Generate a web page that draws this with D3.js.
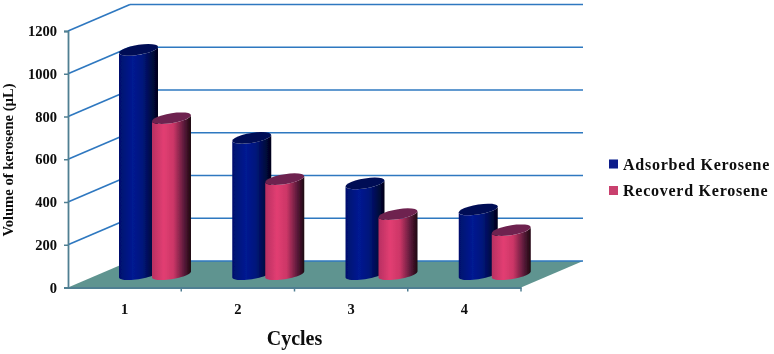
<!DOCTYPE html>
<html>
<head>
<meta charset="utf-8">
<script src="https://cdnjs.cloudflare.com/ajax/libs/d3/7.8.5/d3.min.js"></script>
<style>
body{margin:0;background:#fff;}
svg{display:block;}
text{font-family:'Liberation Serif',serif;font-weight:bold;fill:#0a0a0a;}
</style>
</head>
<body>
<svg width="774" height="354"></svg>
<script>
var cycles = ['1','2','3','4'];
var seriesNames = ['Adsorbed Kerosene','Recoverd Kerosene'];
var adsorbed = [1050,638,425,303];
var recovered = [730,445,281,206];
var yTicks = [0,200,400,600,800,1000,1200];

var svg = d3.select('svg');

// layout
var plot = {l:68, r:521, t:31, b:287.5};
var depth = {x:62, y:26.5};
var rx = 19.5, ry = 5, tilt = 3;

var y = d3.scaleLinear().domain([0,1200]).range([plot.b,plot.t]);
var x = d3.scaleBand().domain(cycles).range([plot.l,plot.r]);
var xInner = d3.scaleBand().domain(seriesNames).range([23,89]);
var colors = d3.scaleOrdinal().domain(seriesNames).range(['#0a1a8a','#c9406e']);

var defs = svg.append('defs');
defs.append('filter').attr('id','soft')
    .attr('x','-5%').attr('y','-5%').attr('width','110%').attr('height','110%')
    .append('feGaussianBlur').attr('stdDeviation',0.6);

function makeGradient(id,stops){
    var g = defs.append('linearGradient').attr('id',id);
    stops.forEach(function(s){
        g.append('stop').attr('offset',s[0]).attr('stop-color',s[1]);
    });
}
makeGradient('blueBody',[[0,'#00106c'],[0.35,'#001a92'],[0.6,'#00157c'],[0.85,'#000a40'],[1,'#000118']]);
makeGradient('redBody',[[0,'#b83062'],[0.3,'#e23e72'],[0.55,'#cc3667'],[0.82,'#5a1a3a'],[1,'#1c0610']]);

var root = svg.append('g').attr('filter','url(#soft)');

// floor
root.append('polygon')
    .attr('points',[[plot.l,y(0)],[plot.r,y(0)],[plot.r+depth.x,y(0)-depth.y],[plot.l+depth.x,y(0)-depth.y]].join(' '))
    .attr('fill','#5f9490');

// gridlines on the wall and the side
var grid = root.append('g').attr('fill','none').attr('stroke','#2f78c0').attr('stroke-width',1.7);
yTicks.forEach(function(t){
    if(t>0){
        grid.append('path')
            .attr('d','M'+plot.l+','+y(t)+'L'+(plot.l+depth.x)+','+(y(t)-depth.y));
    }
    grid.append('path')
        .attr('d','M'+(plot.l+depth.x)+','+(y(t)-depth.y)+'H'+(plot.r+depth.x));
});

// axes
var yAxis = root.append('g')
    .attr('transform','translate('+plot.l+',0)')
    .call(d3.axisLeft(y).tickValues(yTicks).tickSize(4).tickPadding(7).tickFormat(d3.format('d')));
var xAxis = root.append('g')
    .attr('transform','translate(0,'+plot.b+')')
    .call(d3.axisBottom(x).tickSize(0).tickPadding(16));
xAxis.selectAll('.tick').each(function(d){
    d3.select(this).append('line')
        .attr('x1',x.bandwidth()/2).attr('x2',x.bandwidth()/2)
        .attr('y1',0).attr('y2',4);
});
root.selectAll('.domain').attr('stroke','#4f7f92').attr('stroke-width',1.8);
root.selectAll('.tick line').attr('stroke','#4f7f92').attr('stroke-width',1.5);
root.selectAll('.tick text').attr('font-size','14.5px').style('font-family',"'Liberation Serif',serif").style('font-weight','bold').attr('fill','#0a0a0a');

// outline of a tilted ellipse from angle a0 to a1
function rim(cx,cy,a0,a1){
    var pts = d3.range(0,25).map(function(i){
        var a = a0+(a1-a0)*i/24;
        return [cx+rx*Math.cos(a), cy+ry*Math.sin(a)-tilt*Math.cos(a)];
    });
    return pts;
}

function drawCylinder(name,cycle,value){
    var cx = x(cycle)+xInner(name)+xInner.bandwidth()/2+depth.x/2;
    var base = y(0)-depth.y/2;
    var top = base-(y(0)-y(value));
    var isBlue = name===seriesNames[0];
    var line = d3.line();
    // bottom rim runs right to left along the front, top rim closes back over the front edge
    var body = rim(cx,base,0,Math.PI).concat(rim(cx,top,Math.PI,0));
    root.append('path')
        .attr('d',line(body)+'Z')
        .attr('fill',isBlue?'url(#blueBody)':'url(#redBody)');
    root.append('path')
        .attr('d',line(rim(cx,top,0,2*Math.PI))+'Z')
        .attr('fill',isBlue?'#000c55':'#6e2450');
}

cycles.forEach(function(c,i){
    drawCylinder(seriesNames[0],c,adsorbed[i]);
    drawCylinder(seriesNames[1],c,recovered[i]);
});

// titles
root.append('text')
    .attr('text-anchor','middle')
    .attr('transform','translate(294.5,345)')
    .attr('font-size','20px')
    .text('Cycles');
root.append('text')
    .attr('text-anchor','middle')
    .attr('transform','translate(13,160) rotate(-90)')
    .attr('font-size','14.6px')
    .text('Volume of kerosene (µL)');

// legend
var legend = root.selectAll('.legendItem').data(seriesNames).enter().append('g')
    .attr('class','legendItem')
    .attr('transform',function(d,i){return 'translate(609,'+(159.5+i*26.5)+')';});
legend.append('rect')
    .attr('width',9).attr('height',9)
    .attr('fill',function(d){return colors(d);});
legend.append('text')
    .attr('x',14).attr('y',10)
    .attr('font-size','16px')
    .style('letter-spacing','0.75px')
    .text(function(d){return d;});
</script>
</body>
</html>
